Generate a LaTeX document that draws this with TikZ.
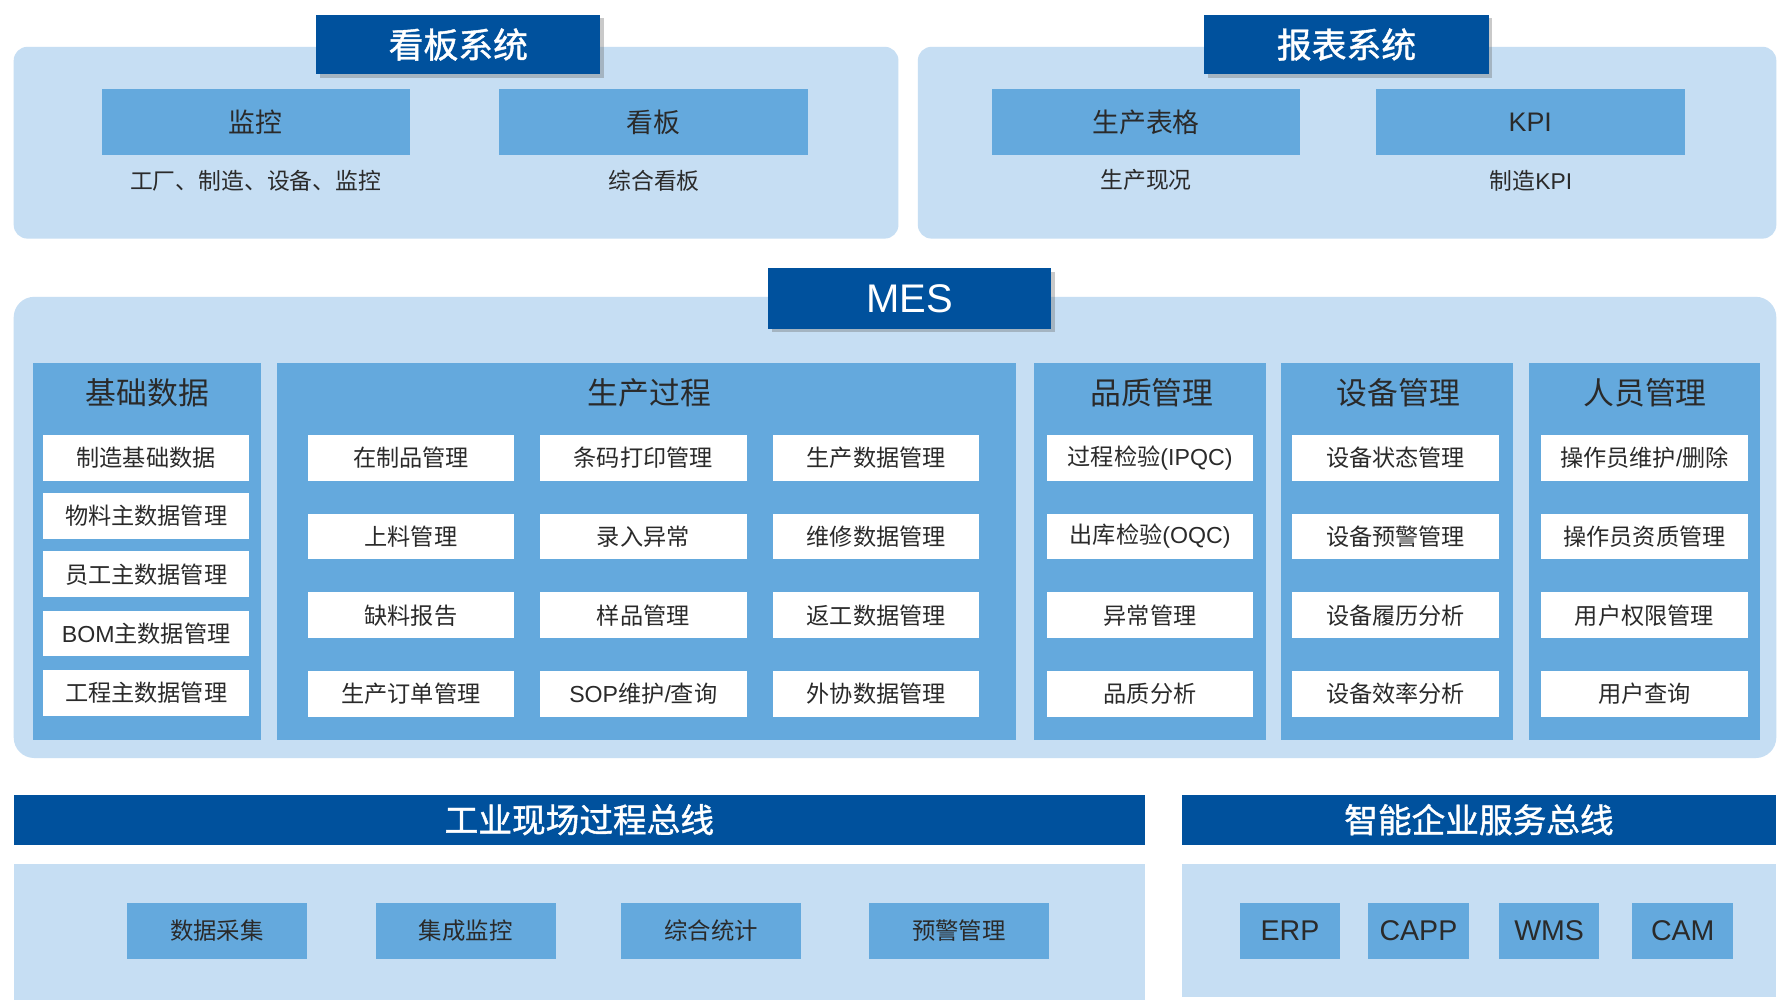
\documentclass[tikz,border=0pt]{standalone}
\usepackage{fontspec}
\setmainfont{Noto Sans CJK SC}
\newfontfamily\lat{Liberation Sans}
\newfontfamily\semib[FakeBold=1.2]{Noto Sans CJK SC}
\usetikzlibrary{shadows}
\definecolor{pale}{HTML}{C6DEF3}
\definecolor{mid}{HTML}{64A9DD}
\definecolor{dark}{HTML}{00519D}
\definecolor{txt}{HTML}{2A2A2A}
\tikzset{
  panel/.style={fill=pale, draw=none, rounded corners=12pt, inner sep=0pt},
  flatpanel/.style={fill=pale, draw=none, inner sep=0pt},
  hdr/.style={fill=dark, draw=none, inner sep=0pt, text=white, font=\fontsize{30.5}{34}\selectfont\semib,
    drop shadow={shadow xshift=3pt, shadow yshift=-3pt, opacity=0.35, fill=black!60}},
  bus/.style={fill=dark, draw=none, inner sep=0pt, text=white, font=\fontsize{29.5}{32}\selectfont\semib},
  midbox/.style={fill=mid, draw=none, inner sep=0pt, text=txt, font=\fontsize{23.5}{26}\selectfont},
  col/.style={fill=mid, draw=none, inner sep=0pt},
  coltitle/.style={text=txt, font=\fontsize{27}{30}\selectfont, inner sep=0pt},
  wbox/.style={fill=white, draw=none, inner sep=0pt, minimum height=40pt, text=txt, font=\fontsize{20.3}{22}\selectfont},
  sub/.style={text=txt, font=\fontsize{20}{22}\selectfont, inner sep=0pt},
  bbox/.style={fill=mid, draw=none, inner sep=0pt, minimum height=49pt, text=txt, font=\fontsize{20.5}{22}\selectfont},
  ebox/.style={fill=mid, draw=none, inner sep=0pt, minimum height=49pt, minimum width=88pt, text=txt, font=\fontsize{25}{26}\selectfont\lat},
}
\begin{document}
\begin{tikzpicture}[x=1pt,y=-1pt]
\useasboundingbox[fill=white] (0,0) rectangle (1568,879);

% ---------- top left: 看板系统 ----------
\node[panel, minimum width=775pt, minimum height=168pt] (pA) at (399.5,125) {};
\node[hdr, minimum width=249pt, minimum height=52pt] (hA) at (401.5,39) {看板系统};
\node[midbox, minimum width=270pt, minimum height=58pt] (jk) at (224,107) {监控};
\node[midbox, minimum width=271pt, minimum height=58pt] (kb) at (572.5,107) {看板};
\node[sub] (jks) at (224,158) {工厂、制造、设备、监控};
\node[sub] (kbs) at (573,158) {综合看板};

% ---------- top right: 报表系统 ----------
\node[panel, minimum width=752pt, minimum height=168pt] (pB) at (1180,125) {};
\node[hdr, minimum width=249pt, minimum height=52pt] (hB) at (1179.5,39) {报表系统};
\node[midbox, minimum width=270pt, minimum height=58pt] (sc) at (1004,107) {生产表格};
\node[midbox, minimum width=271pt, minimum height=58pt] (kpi) at (1340.5,107) {\lat KPI};
\node[sub] (scs) at (1004,158) {生产现况};
\node[sub] (kpis) at (1341,158) {制造{\lat KPI}};

% ---------- MES ----------
\node[panel, rounded corners=18pt, minimum width=1544pt, minimum height=404pt] (pM) at (784,462) {};
\node[hdr, minimum width=248pt, minimum height=53pt, font=\fontsize{35}{38}\selectfont\lat] (hM) at (797,261.5) {MES};

\node[col, minimum width=200pt, minimum height=330pt] (c1) at (129,483) {};
\node[col, minimum width=647pt, minimum height=330pt] (c2) at (566.5,483) {};
\node[col, minimum width=203pt, minimum height=330pt] (c3) at (1007.5,483) {};
\node[col, minimum width=203pt, minimum height=330pt] (c4) at (1223.5,483) {};
\node[col, minimum width=203pt, minimum height=330pt] (c5) at (1440.5,483) {};

\node[coltitle] (t1) at (129,344) {基础数据};
\node[coltitle] (t2) at (569,344) {生产过程};
\node[coltitle] (t3) at (1009,344) {品质管理};
\node[coltitle] (t4) at (1225,344) {设备管理};
\node[coltitle] (t5) at (1441,344) {人员管理};

% 基础数据
\node[wbox, minimum width=180pt] (a1) at (128,401) {制造基础数据};
\node[wbox, minimum width=180pt] (a2) at (128,452) {物料主数据管理};
\node[wbox, minimum width=180pt] (a3) at (128,503) {员工主数据管理};
\node[wbox, minimum width=180pt] (a4) at (128,555) {{\lat BOM}主数据管理};
\node[wbox, minimum width=180pt] (a5) at (128,607) {工程主数据管理};

% 生产过程
\node[wbox, minimum width=181pt] (b11) at (360,401) {在制品管理};
\node[wbox, minimum width=181pt] (b21) at (360,470) {上料管理};
\node[wbox, minimum width=181pt] (b31) at (360,539) {缺料报告};
\node[wbox, minimum width=181pt] (b41) at (360,608) {生产订单管理};
\node[wbox, minimum width=181pt] (b12) at (563.5,401) {条码打印管理};
\node[wbox, minimum width=181pt] (b22) at (563.5,470) {录入异常};
\node[wbox, minimum width=181pt] (b32) at (563.5,539) {样品管理};
\node[wbox, minimum width=181pt] (b42) at (563.5,608) {{\lat SOP}维护{\lat /}查询};
\node[wbox, minimum width=181pt] (b13) at (767.5,401) {生产数据管理};
\node[wbox, minimum width=181pt] (b23) at (767.5,470) {维修数据管理};
\node[wbox, minimum width=181pt] (b33) at (767.5,539) {返工数据管理};
\node[wbox, minimum width=181pt] (b43) at (767.5,608) {外协数据管理};

% 品质管理
\node[wbox, minimum width=181pt] (q1) at (1007.5,401) {过程检验{\lat (IPQC)}};
\node[wbox, minimum width=181pt] (q2) at (1007.5,470) {出库检验{\lat (OQC)}};
\node[wbox, minimum width=181pt] (q3) at (1007.5,539) {异常管理};
\node[wbox, minimum width=181pt] (q4) at (1007.5,608) {品质分析};

% 设备管理
\node[wbox, minimum width=181pt] (e1) at (1222.5,401) {设备状态管理};
\node[wbox, minimum width=181pt] (e2) at (1222.5,470) {设备预警管理};
\node[wbox, minimum width=181pt] (e3) at (1222.5,539) {设备履历分析};
\node[wbox, minimum width=181pt] (e4) at (1222.5,608) {设备效率分析};

% 人员管理
\node[wbox, minimum width=181pt] (r1) at (1440.5,401) {操作员维护{\lat /}删除};
\node[wbox, minimum width=181pt] (r2) at (1440.5,470) {操作员资质管理};
\node[wbox, minimum width=181pt] (r3) at (1440.5,539) {用户权限管理};
\node[wbox, minimum width=181pt] (r4) at (1440.5,608) {用户查询};

% ---------- buses ----------
\node[bus, minimum width=991pt, minimum height=44pt] (bus1) at (507.5,718) {工业现场过程总线};
\node[bus, minimum width=521pt, minimum height=44pt] (bus2) at (1295.5,718) {智能企业服务总线};

\node[flatpanel, minimum width=991pt, minimum height=119pt] (pL) at (507.5,816.5) {};
\node[flatpanel, minimum width=521pt, minimum height=116pt] (pR) at (1295.5,815) {};

\node[bbox, minimum width=158pt] (d1) at (190,815.5) {数据采集};
\node[bbox, minimum width=158pt] (d2) at (408,815.5) {集成监控};
\node[bbox, minimum width=158pt] (d3) at (623,815.5) {综合统计};
\node[bbox, minimum width=158pt] (d4) at (840,815.5) {预警管理};

\node[ebox] (s1) at (1130,815.5) {ERP};
\node[ebox, minimum width=89pt] (s2) at (1242.5,815.5) {CAPP};
\node[ebox] (s3) at (1357,815.5) {WMS};
\node[ebox] (s4) at (1474,815.5) {CAM};
\end{tikzpicture}
\end{document}
